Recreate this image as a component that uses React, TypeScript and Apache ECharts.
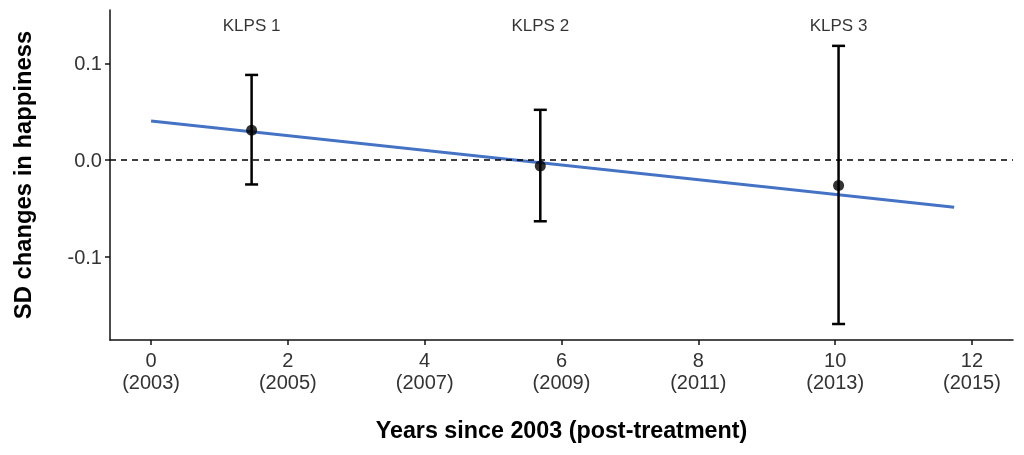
import React, { useEffect, useRef } from "react";
import * as echarts from "echarts";

// Survey waves (KLPS rounds) and their timing, years since 2003
const waves = ["KLPS 1", "KLPS 2", "KLPS 3"];
const waveYears = [1.47, 5.69, 10.05];
// Point estimates and 95% confidence bounds (SD changes in happiness)
const estimates = [0.031, -0.006, -0.026];
const ciLower = [-0.025, -0.063, -0.169];
const ciUpper = [0.088, 0.052, 0.118];
// Linear trend endpoints
const trendX = [0, 11.74];
const trendY = [0.0405, -0.0485];
// Height at which the wave labels are placed
const waveLabelY = 0.1385;
// Axis ticks
const xTicks = [0, 2, 4, 6, 8, 10, 12];
const yTicks = [-0.1, 0, 0.1];
const baseYear = 2003;

const X_MIN = -0.6;
const X_MAX = 12.6;
const Y_MIN = -0.1855;
const Y_MAX = 0.155;

export default function App() {
  const ref = useRef<HTMLDivElement>(null);

  useEffect(() => {
    if (!ref.current) return;
    const chart = echarts.init(ref.current, null, { renderer: "svg" });
    const axisColor = "#111";
    const tickColor = "#333";

    chart.setOption({
      animation: false,
      textStyle: { fontFamily: "'Liberation Sans', Arial, sans-serif" },
      grid: { left: 110, right: 11, top: 10, bottom: 115, outerBoundsMode: "none" },
      xAxis: {
        type: "value",
        min: X_MIN,
        max: X_MAX,
        name: "Years since 2003 (post-treatment)",
        nameLocation: "middle",
        nameGap: 78,
        nameTextStyle: { fontSize: 23.3, fontWeight: "bold", color: "#000" },
        axisLine: { show: true, onZero: false, lineStyle: { color: axisColor, width: 1.5 } },
        axisTick: { show: true, length: 5, customValues: xTicks, lineStyle: { color: axisColor, width: 1.5 } },
        axisLabel: {
          customValues: xTicks,
          formatter: (v: number) => `${v}\n(${baseYear + v})`,
          fontSize: 20,
          lineHeight: 22,
          color: tickColor,
          margin: 9,
        },
        splitLine: { show: false },
      },
      yAxis: {
        type: "value",
        min: Y_MIN,
        max: Y_MAX,
        name: "SD changes in happiness",
        nameLocation: "middle",
        nameGap: 76,
        nameTextStyle: { fontSize: 23.8, fontWeight: "bold", color: "#000" },
        axisLine: { show: true, onZero: false, lineStyle: { color: axisColor, width: 1.5 } },
        axisTick: { show: true, length: 5, customValues: yTicks, lineStyle: { color: axisColor, width: 1.5 } },
        axisLabel: {
          customValues: yTicks,
          formatter: (v: number) => v.toFixed(1),
          fontSize: 20,
          color: tickColor,
          margin: 8,
        },
        splitLine: { show: false },
      },
      series: [
        {
          type: "line",
          data: [],
          z: 1,
          markLine: {
            silent: true,
            symbol: "none",
            label: { show: false },
            lineStyle: { type: [6, 5], color: "#000", width: 1.5 },
            data: [{ yAxis: 0 }],
          },
        },
        {
          type: "line",
          data: trendX.map((x, i) => [x, trendY[i]]),
          showSymbol: false,
          lineStyle: { color: "#4472C4", width: 3 },
          z: 3,
        },
        {
          type: "custom",
          z: 4,
          data: waveYears.map((x, i) => [x, ciLower[i], ciUpper[i]]),
          encode: { x: 0, y: [1, 2] },
          renderItem: (_params: any, api: any) => {
            const x = api.value(0);
            const lo = api.coord([x, api.value(1)]);
            const hi = api.coord([x, api.value(2)]);
            const w = 6.5;
            const style = { stroke: "#000", lineWidth: 2.5 };
            return {
              type: "group",
              children: [
                { type: "line", shape: { x1: lo[0], y1: lo[1], x2: hi[0], y2: hi[1] }, style },
                { type: "line", shape: { x1: lo[0] - w, y1: lo[1], x2: lo[0] + w, y2: lo[1] }, style },
                { type: "line", shape: { x1: hi[0] - w, y1: hi[1], x2: hi[0] + w, y2: hi[1] }, style },
              ],
            };
          },
        },
        {
          type: "scatter",
          z: 5,
          data: waveYears.map((x, i) => [x, estimates[i]]),
          symbolSize: 11,
          itemStyle: { color: "#000" },
        },
        {
          type: "scatter",
          z: 6,
          data: waves.map((n, i) => [waveYears[i], waveLabelY, n]),
          symbolSize: 1,
          itemStyle: { color: "rgba(0,0,0,0)" },
          label: {
            show: true,
            position: "inside",
            formatter: (p: any) => p.data[2],
            fontSize: 17,
            color: "#000",
          },
        },
      ],
    });

    return () => chart.dispose();
  }, []);

  return (
    <div
      ref={ref}
      style={{ position: "fixed", left: 0, top: 0, width: 1024, height: 455 }}
    />
  );
}
